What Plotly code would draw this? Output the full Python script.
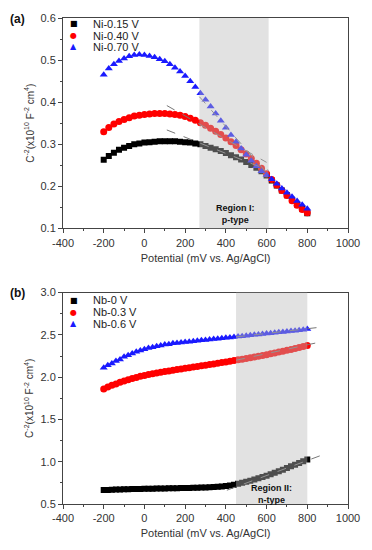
import plotly.graph_objects as go
from plotly.subplots import make_subplots

# ---------------- Panel (a) data ----------------
pot_a = list(range(-200, 801, 25))
ni_015 = [0.263, 0.272, 0.280, 0.287, 0.292, 0.296, 0.300, 0.302, 0.304, 0.305,
          0.306, 0.307, 0.307, 0.307, 0.307, 0.306, 0.305, 0.304, 0.302, 0.300,
          0.296, 0.292, 0.288, 0.284, 0.279, 0.274, 0.269, 0.264, 0.258, 0.251,
          0.244, 0.236, 0.226, 0.214, 0.202, 0.190, 0.179, 0.168, 0.157, 0.147, 0.136]
ni_040 = [0.330, 0.340, 0.348, 0.354, 0.359, 0.363, 0.367, 0.369, 0.371, 0.372,
          0.373, 0.373, 0.373, 0.372, 0.371, 0.369, 0.366, 0.362, 0.357, 0.351,
          0.345, 0.338, 0.331, 0.323, 0.315, 0.306, 0.297, 0.287, 0.277, 0.266,
          0.255, 0.243, 0.230, 0.216, 0.203, 0.190, 0.178, 0.166, 0.155, 0.145, 0.137]
ni_070 = [0.465, 0.480, 0.490, 0.498, 0.504, 0.509, 0.512, 0.513, 0.512, 0.510,
          0.507, 0.502, 0.497, 0.490, 0.482, 0.473, 0.462, 0.450, 0.436, 0.421,
          0.406, 0.390, 0.373, 0.356, 0.339, 0.322, 0.306, 0.290, 0.275, 0.261,
          0.248, 0.236, 0.227, 0.217, 0.206, 0.195, 0.185, 0.175, 0.165, 0.156, 0.147]
labels_a = ["Ni-0.15 V", "Ni-0.40 V", "Ni-0.70 V"]
fit_a_x = [[110, 610], [110, 600], [270, 620]]
fit_a_y = [[0.334, 0.238], [0.392, 0.257], [0.413, 0.222]]
region_a = [270, 610]

# ---------------- Panel (b) data ----------------
pot_b = list(range(-200, 801, 20))
nb_0 = [0.665, 0.667, 0.669, 0.671, 0.672, 0.674, 0.675, 0.676, 0.677, 0.678,
        0.679, 0.680, 0.681, 0.682, 0.683, 0.684, 0.685, 0.686, 0.687, 0.688,
        0.689, 0.690, 0.691, 0.692, 0.694, 0.696, 0.698, 0.700, 0.703, 0.707,
        0.712, 0.719, 0.727, 0.738, 0.750, 0.763, 0.776, 0.790, 0.804, 0.819,
        0.835, 0.852, 0.869, 0.887, 0.906, 0.925, 0.945, 0.965, 0.985, 1.005, 1.025]
nb_03 = [1.860, 1.885, 1.905, 1.920, 1.940, 1.955, 1.970, 1.985, 1.997, 2.010,
         2.020, 2.030, 2.040, 2.050, 2.058, 2.066, 2.074, 2.082, 2.090, 2.097,
         2.104, 2.112, 2.120, 2.127, 2.135, 2.142, 2.150, 2.157, 2.165, 2.172,
         2.180, 2.188, 2.196, 2.205, 2.213, 2.222, 2.230, 2.239, 2.248, 2.257,
         2.266, 2.276, 2.286, 2.296, 2.306, 2.317, 2.328, 2.339, 2.350, 2.362, 2.375]
nb_06 = [2.110, 2.140, 2.160, 2.190, 2.210, 2.240, 2.260, 2.280, 2.300, 2.315,
         2.330, 2.345, 2.355, 2.365, 2.375, 2.385, 2.390, 2.400, 2.405, 2.410,
         2.415, 2.420, 2.425, 2.430, 2.435, 2.440, 2.445, 2.450, 2.455, 2.460,
         2.465, 2.470, 2.475, 2.480, 2.485, 2.490, 2.495, 2.500, 2.505, 2.510,
         2.515, 2.520, 2.525, 2.530, 2.535, 2.540, 2.545, 2.550, 2.555, 2.560, 2.570]
labels_b = ["Nb-0 V", "Nb-0.3 V", "Nb-0.6 V"]
fit_b_x = [[405, 885], [450, 880], [450, 880]]
fit_b_y = [[0.663, 1.090], [2.200, 2.424], [2.476, 2.595]]
region_b = [450, 800]

x_ticks = list(range(-400, 1001, 200))
x_ticktext = [str(v) for v in x_ticks]
ya_ticks = [0.1, 0.2, 0.3, 0.4, 0.5, 0.6]
yb_ticks = [0.5, 1.0, 1.5, 2.0, 2.5, 3.0]

# ---------------- figure ----------------
fig = make_subplots(rows=2, cols=1, vertical_spacing=0.13)

colors = ["#000000", "#ff0000", "#1a1aff"]
symbols = ["square", "circle", "triangle-up"]
glyphs = ["■", "●", "▲"]
sizes = [6, 7, 7]

for ys, lab, c, s, sz in zip([ni_015, ni_040, ni_070], labels_a, colors, symbols, sizes):
    fig.add_trace(go.Scatter(x=pot_a, y=ys, mode="markers", name=lab, showlegend=False,
                             marker=dict(color=c, symbol=s, size=sz, line=dict(width=0))),
                  row=1, col=1)
for fx, fy in zip(fit_a_x, fit_a_y):
    fig.add_trace(go.Scatter(x=fx, y=fy, mode="lines", showlegend=False,
                             line=dict(color="#777777", width=1, dash="dash")), row=1, col=1)

for ys, lab, c, s, sz in zip([nb_0, nb_03, nb_06], labels_b, colors, symbols, sizes):
    fig.add_trace(go.Scatter(x=pot_b, y=ys, mode="markers", name=lab, showlegend=False,
                             marker=dict(color=c, symbol=s, size=sz, line=dict(width=0))),
                  row=2, col=1)
for fx, fy in zip(fit_b_x, fit_b_y):
    fig.add_trace(go.Scatter(x=fx, y=fy, mode="lines", showlegend=False,
                             line=dict(color="#777777", width=1, dash="dash")), row=2, col=1)

# shaded regions (above markers, semi-transparent)
fig.add_shape(type="rect", xref="x", yref="y domain", x0=region_a[0], x1=region_a[1],
              y0=0, y1=1, fillcolor="rgba(185,185,185,0.42)", line=dict(width=0), layer="above")
fig.add_shape(type="rect", xref="x2", yref="y2 domain", x0=region_b[0], x1=region_b[1],
              y0=0, y1=1, fillcolor="rgba(185,185,185,0.42)", line=dict(width=0), layer="above")

fig.add_annotation(xref="x", yref="y", x=446, y=0.134, text="<b>Region I:<br>p-type</b>",
                   showarrow=False, font=dict(size=9, color="#111"), align="center")
fig.add_annotation(xref="x2", yref="y2", x=626, y=0.615, text="<b>Region II:<br>n-type</b>",
                   showarrow=False, font=dict(size=9, color="#111"), align="center")

# panel labels
PH = 494.0
def py(pix):
    return 1 - (pix - 15) / PH
def px(pix):
    return (pix - 63) / 289.0

fig.add_annotation(xref="paper", yref="paper", x=px(17), y=py(16), text="<b>(a)</b>",
                   showarrow=False, font=dict(size=12, color="#111"), xanchor="center", yanchor="middle")
fig.add_annotation(xref="paper", yref="paper", x=px(17), y=py(295), text="<b>(b)</b>",
                   showarrow=False, font=dict(size=12, color="#111"), xanchor="center", yanchor="middle")

# legends drawn as text
for labs, rows in [(labels_a, [21, 33, 44]), (labels_b, [302, 314, 326])]:
    for lab, c, g, r in zip(labs, colors, glyphs, rows):
        fig.add_annotation(xref="paper", yref="paper", x=px(74), y=py(r),
                           text=f"<span style='color:{c}'>{g}</span>", showarrow=False,
                           font=dict(size=8, family="DejaVu Sans", color=c),
                           xanchor="center", yanchor="middle")
        fig.add_annotation(xref="paper", yref="paper", x=px(91), y=py(r), text=lab,
                           showarrow=False, font=dict(size=11, color="#222"),
                           xanchor="left", yanchor="middle")

ax_line = dict(showline=True, linecolor="#444", linewidth=1, mirror=True,
               ticks="outside", ticklen=4, tickcolor="#444", showgrid=False, zeroline=False,
               tickfont=dict(size=11, color="#333"))

ytitle = "C<sup>-2</sup>(x10<sup>10</sup> F<sup>-2</sup> cm<sup>4</sup>)"
xtitle = "Potential (mV vs. Ag/AgCl)"

fig.update_xaxes(range=[-400, 1000], tickvals=x_ticks, ticktext=x_ticktext, **ax_line,
                 minor=dict(ticks="outside", ticklen=2, tickcolor="#444", dtick=100, tick0=-400),
                 title=dict(text=xtitle, font=dict(size=11, color="#333"), standoff=6))
fig.update_yaxes(**ax_line,
                 title=dict(text=ytitle, font=dict(size=10, color="#333"), standoff=4))
fig.update_yaxes(range=[0.1, 0.6], tickvals=ya_ticks, ticktext=[f"{v:.1f}" for v in ya_ticks],
                 minor=dict(ticks="outside", ticklen=2, tickcolor="#444", dtick=0.05, tick0=0.1),
                 domain=[0.567, 1.0], row=1, col=1)
fig.update_yaxes(range=[0.5, 3.0], tickvals=yb_ticks, ticktext=[f"{v:.1f}" for v in yb_ticks],
                 minor=dict(ticks="outside", ticklen=2, tickcolor="#444", dtick=0.25, tick0=0.5),
                 domain=[0.0, 0.435], row=2, col=1)

fig.update_layout(
    width=372, height=550,
    margin=dict(l=63, r=20, t=15, b=41),
    plot_bgcolor="white", paper_bgcolor="white",
    font=dict(family="Liberation Sans, Arial, sans-serif", color="#333"),
    showlegend=False,
)

fig.write_html("out.html", config={"displayModeBar": False},
               post_script="document.body.style.margin='0';document.body.style.overflow='hidden';")
